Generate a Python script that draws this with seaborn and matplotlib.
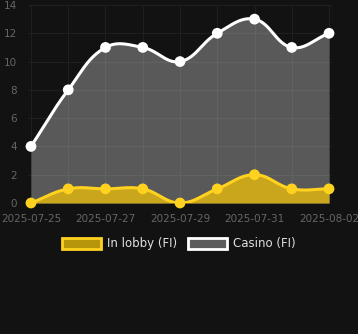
import numpy as np
import pandas as pd
import matplotlib
matplotlib.use("Agg")
import matplotlib.pyplot as plt
import seaborn as sns
from matplotlib.patches import Patch

dates = ["2025-07-25", "2025-07-26", "2025-07-27", "2025-07-28", "2025-07-29",
         "2025-07-30", "2025-07-31", "2025-08-01", "2025-08-02"]
casino = [4, 8, 11, 11, 10, 12, 13, 11, 12]
lobby = [0, 1, 1, 1, 0, 1, 2, 1, 1]
tick_labels = ["2025-07-25", "2025-07-27", "2025-07-29", "2025-07-31", "2025-08-02"]
yticks = [0, 2, 4, 6, 8, 10, 12, 14]

BG = "#121212"
sns.set_theme(style="dark")
plt.rcParams["font.family"] = ["DejaVu Sans"]

fig = plt.figure(figsize=(3.58, 3.34), dpi=100, facecolor=BG)
ax = fig.add_axes([28 / 358, 1 - 203 / 334, 304 / 358, 198 / 334])
ax.set_facecolor(BG)

x = np.arange(len(dates))
XS, YS = 37.25, 14.14  # px per unit, for spline tension


def spline(xs, ys, t=0.4, n=30):
    px = np.asarray(xs, float) * XS
    py = np.asarray(ys, float) * YS
    m = len(px)
    cps = []
    for i in range(m):
        p0 = (px[max(i - 1, 0)], py[max(i - 1, 0)])
        p1 = (px[i], py[i])
        p2 = (px[min(i + 1, m - 1)], py[min(i + 1, m - 1)])
        d01 = np.hypot(p1[0] - p0[0], p1[1] - p0[1])
        d12 = np.hypot(p2[0] - p1[0], p2[1] - p1[1])
        s01 = d01 / (d01 + d12) if d01 + d12 else 0
        s12 = d12 / (d01 + d12) if d01 + d12 else 0
        fa, fb = t * s01, t * s12
        prev = (p1[0] - fa * (p2[0] - p0[0]), p1[1] - fa * (p2[1] - p0[1]))
        nxt = (p1[0] + fb * (p2[0] - p0[0]), p1[1] + fb * (p2[1] - p0[1]))
        cps.append((prev, nxt))
    out_x, out_y = [], []
    tt = np.linspace(0, 1, n)
    for i in range(m - 1):
        P0 = np.array([px[i], py[i]])
        P1 = np.array(cps[i][1])
        P2 = np.array(cps[i + 1][0])
        P3 = np.array([px[i + 1], py[i + 1]])
        B = ((1 - tt)[:, None] ** 3 * P0 + 3 * ((1 - tt) ** 2 * tt)[:, None] * P1
             + 3 * ((1 - tt) * tt ** 2)[:, None] * P2 + (tt ** 3)[:, None] * P3)
        if i > 0:
            B = B[1:]
        out_x.extend(B[:, 0])
        out_y.extend(B[:, 1])
    return np.array(out_x) / XS, np.array(out_y) / YS


cx, cy = spline(x, casino)
lx, ly = spline(x, lobby)
cy = np.clip(cy, 0, 14)
ly = np.clip(ly, 0, 14)

ax.fill_between(cx, 0, cy, color="white", alpha=0.3, lw=0, zorder=1)
ax.fill_between(lx, 0, ly, color="#c9a61c", lw=0, zorder=2)
ax.plot(cx, cy, color="white", lw=2.2, zorder=3, solid_capstyle="round")
ax.plot(lx, ly, color="#ffd21f", lw=2.2, zorder=3, solid_capstyle="round")

df = pd.DataFrame({"x": np.concatenate([x, x]),
                   "y": casino + lobby,
                   "s": ["Casino (FI)"] * len(x) + ["In lobby (FI)"] * len(x)})
sns.scatterplot(data=df, x="x", y="y", hue="s",
                palette={"Casino (FI)": "white", "In lobby (FI)": "#ffd21f"},
                s=60, edgecolor="none", legend=False, ax=ax, zorder=4, clip_on=False)

ax.set_xlim(-0.08, len(x) - 1 + 0.08)
ax.set_ylim(0, 14)
ax.set_xticks(x)
ax.set_xticklabels([d if d in tick_labels else "" for d in dates])
ax.tick_params(axis="x", length=0, pad=8, labelsize=7.5, colors="#666666")
ax.set_yticks(yticks)
ax.tick_params(axis="y", length=0, pad=8, labelsize=7.5, colors="#666666")
ax.grid(True, color="#1f1f1f", lw=0.8)
ax.set_axisbelow(True)
for s in ax.spines.values():
    s.set_visible(False)
ax.set_xlabel("")
ax.set_ylabel("")

handles = [Patch(facecolor="#b8960c", edgecolor="#ffd21f", lw=2, label="In lobby (FI)"),
           Patch(facecolor="#5c5c5c", edgecolor="white", lw=2, label="Casino (FI)")]
fig.legend(handles=handles, loc="center", bbox_to_anchor=(0.5, 1 - 244 / 334),
           ncol=2, frameon=False, fontsize=8.5, labelcolor="#e0e0e0",
           handlelength=3.3, handleheight=1.1, columnspacing=0.9, handletextpad=0.5)

fig.savefig("out.png", dpi=100, facecolor=BG)
